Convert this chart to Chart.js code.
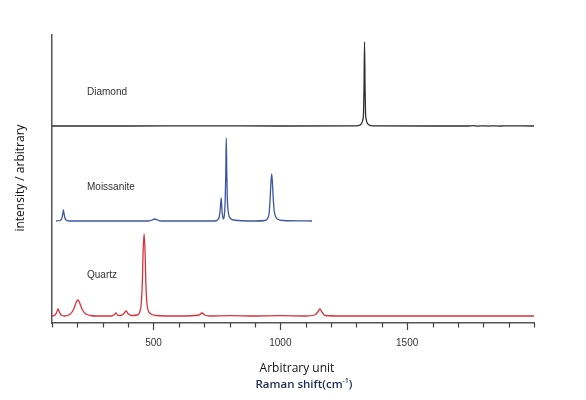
<!DOCTYPE html>
<html>
<head>
<meta charset="utf-8">
<script src="https://cdn.jsdelivr.net/npm/chart.js@4.4.0/dist/chart.umd.min.js"></script>
<style>
  html, body { margin: 0; padding: 0; background: #ffffff; }
  #wrap { width: 586px; height: 400px; position: relative; }
</style>
</head>
<body>
<div id="wrap"><canvas id="c"></canvas></div>
<script>
// ---- Data (x: Raman shift cm-1, y: stacked arbitrary intensity) ----
const diamondX = [100, 400, 700, 1000, 1300, 1314, 1320, 1325, 1328, 1330, 1332, 1334, 1336, 1339, 1344, 1350, 1364, 1600, 1740, 1760, 1780, 1800, 1820, 1840, 1860, 1880, 2000];
const diamondY = [197, 197, 197.1, 197, 197.1, 198, 199.5, 203, 210, 235, 281, 235, 210, 203, 199.5, 198, 197.1, 197, 197, 197.3, 196.9, 197.2, 196.9, 197.2, 196.9, 197.1, 197];

const moissaniteX = [116, 132, 139, 143, 145, 147, 151, 158, 170, 300, 480, 494, 505, 516, 530, 740, 752, 759, 763, 767, 770, 773, 776, 779, 783, 785, 787, 789, 791, 794, 798, 804, 815, 900, 940, 950, 956, 960, 963, 966, 969, 972, 976, 982, 992, 1010, 1125];
const moissaniteY = [102, 102.5, 105, 110, 113, 110, 105, 102.5, 102, 102, 102, 103, 104, 103, 102, 102, 103, 106, 113, 125, 113, 106, 104, 107, 125, 150, 185, 150, 125, 113, 107, 104.5, 103, 102, 102.5, 104.5, 110, 125, 140, 149, 140, 125, 112, 106, 103.5, 102.5, 102];

const quartzX = [100, 112, 119, 124, 129, 136, 150, 172, 186, 196, 202, 209, 220, 234, 252, 275, 335, 346, 352, 358, 370, 382, 392, 401, 415, 435, 446, 452, 456, 459, 463, 467, 470, 474, 480, 490, 510, 600, 680, 691, 702, 720, 800, 900, 1000, 1100, 1135, 1148, 1156, 1164, 1176, 1250, 1500, 1800, 2000];
const quartzY = [7, 8, 11, 14, 11, 8, 7, 9, 14, 21, 23, 20, 13, 9, 7.5, 7, 7, 8.5, 10, 8, 7.5, 9, 12, 9, 7.5, 8, 11, 20, 40, 70, 89, 70, 40, 20, 12, 9, 7.5, 7, 8, 10, 8, 7, 7.4, 7, 7.3, 7, 8, 11, 14, 11, 7.5, 7, 7, 7, 7];

const seriesNames = ["Diamond", "Moissanite", "Quartz"];
const xTickLabels = [500, 1000, 1500];
const xAxisTitle = "Arbitrary unit";
const xAxisSubTitle = "Raman shift(cm";
const yAxisTitle = "intensity / arbitrary";

function pts(xs, ys) { return xs.map((x, i) => ({ x: x, y: ys[i] })); }

const FONT = "'Liberation Sans', Arial, Helvetica, sans-serif";
const TITLE_FONT = "'Open Sans', 'Noto Sans', sans-serif";

const annotate = {
  id: 'annotate',
  afterDraw(chart) {
    const ctx = chart.ctx;
    const xs = chart.scales.x;
    const area = chart.chartArea;
    ctx.save();
    // tick marks every 100 (longer at labelled values)
    ctx.strokeStyle = '#444';
    ctx.lineWidth = 1.2;
    for (let v = 100; v <= 2000; v += 100) {
      const px = Math.round(xs.getPixelForValue(v)) + 0.5;
      const major = xTickLabels.indexOf(v) >= 0;
      ctx.beginPath();
      ctx.moveTo(px, area.bottom);
      ctx.lineTo(px, area.bottom + (major ? 7 : 4.5));
      ctx.stroke();
    }
    // series labels
    ctx.fillStyle = '#333';
    ctx.font = '10px ' + FONT;
    ctx.textBaseline = 'middle';
    ctx.textAlign = 'left';
    ctx.fillText(seriesNames[0], 87, 92);
    ctx.fillText(seriesNames[1], 87, 187);
    ctx.fillText(seriesNames[2], 87, 275);
    // axis titles
    ctx.textAlign = 'center';
    ctx.fillStyle = '#111';
    ctx.font = '12px ' + TITLE_FONT;
    ctx.fillText(xAxisTitle, 297, 369);
    // second title line with superscript
    ctx.font = '600 11.5px ' + TITLE_FONT;
    ctx.fillStyle = '#1e2b52';
    const w1 = ctx.measureText(xAxisSubTitle).width;
    ctx.font = '600 7px ' + TITLE_FONT;
    const w2 = ctx.measureText('-1').width;
    ctx.font = '600 11.5px ' + TITLE_FONT;
    const w3 = ctx.measureText(')').width;
    const total = w1 + w2 + w3;
    let sx = 304 - total / 2;
    ctx.textAlign = 'left';
    ctx.fillText(xAxisSubTitle, sx, 385);
    ctx.font = '600 7px ' + TITLE_FONT;
    ctx.fillText('-1', sx + w1, 381);
    ctx.font = '600 11.5px ' + TITLE_FONT;
    ctx.fillText(')', sx + w1 + w2, 385);
    // y title
    ctx.translate(21, 178);
    ctx.rotate(-Math.PI / 2);
    ctx.textAlign = 'center';
    ctx.fillStyle = '#111';
    ctx.font = '12px ' + TITLE_FONT;
    ctx.fillText(yAxisTitle, 0, 0);
    ctx.restore();
  }
};

new Chart(document.getElementById('c'), {
  type: 'line',
  data: {
    datasets: [
      { label: seriesNames[0], data: pts(diamondX, diamondY), borderColor: '#2e2e2e', borderWidth: 1.3 },
      { label: seriesNames[1], data: pts(moissaniteX, moissaniteY), borderColor: '#3c56a3', borderWidth: 1.3 },
      { label: seriesNames[2], data: pts(quartzX, quartzY), borderColor: '#d8323c', borderWidth: 1.3 }
    ]
  },
  options: {
    responsive: true,
    maintainAspectRatio: false,
    animation: false,
    layout: { padding: { left: 0, right: 52, top: 35, bottom: 0 } },
    elements: { point: { radius: 0 }, line: { cubicInterpolationMode: 'monotone', fill: false } },
    plugins: { legend: { display: false }, tooltip: { enabled: false } },
    scales: {
      x: {
        type: 'linear',
        min: 100,
        max: 2000,
        afterFit(s) { s.height = 77; },
        border: { display: true, color: '#555', width: 1.5 },
        grid: { display: true, drawOnChartArea: false, drawTicks: true, tickLength: 7, tickColor: 'rgba(0,0,0,0)' },
        ticks: {
          stepSize: 100,
          autoSkip: false,
          maxRotation: 0,
          padding: 7,
          color: '#333',
          font: { family: FONT, size: 10 },
          callback(v) { return xTickLabels.indexOf(v) >= 0 ? String(v) : ''; }
        }
      },
      y: {
        type: 'linear',
        min: 0,
        max: 288,
        afterFit(s) { s.width = 52; },
        border: { display: true, color: '#555', width: 1.5 },
        grid: { display: false },
        ticks: { display: false }
      }
    }
  },
  plugins: [annotate]
});
</script>
</body>
</html>
